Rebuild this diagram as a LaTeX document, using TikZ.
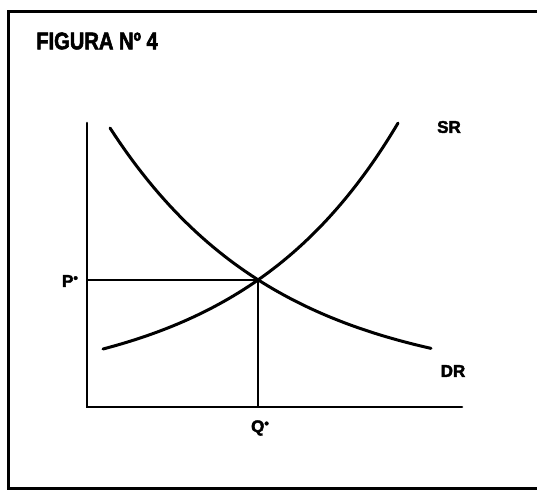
\documentclass[tikz,border=0pt]{standalone}
\usepackage{graphicx}
\usepackage{fontspec}
\setmainfont{Liberation Sans}
\newfontfamily\heavyfont{Liberation Sans}[BoldFeatures={FakeBold=2.5}]
\tikzset{
  curve/.style={line width=3pt, line cap=round},
  axis/.style={line width=2.6pt, line cap=round},
  guide/.style={line width=2.2pt},
  frame/.style={line width=3pt},
  lbl/.style={font=\heavyfont\fontsize{17}{17}\selectfont\bfseries, inner sep=0pt},
}
\newcommand{\stardot}{\raisebox{0.5ex}{\fontsize{13}{13}\selectfont\textbullet}}
\begin{document}
\begin{tikzpicture}[x=1pt,y=-1pt]
\useasboundingbox (0,0) rectangle (537,490);
% frame (top, left, bottom)
\draw[frame] (537,11) -- (8,11) -- (8,488) -- (537,488);
% title
\node[inner sep=0pt, anchor=west] (title) at (36,41) {\scalebox{0.84}[1]{\heavyfont\fontsize{24}{24}\selectfont\bfseries FIGURA Nº 4}};
% axes
\coordinate (ytop) at (87,123);
\coordinate (orig) at (87,407);
\coordinate (xend) at (462,407);
\draw[axis] (ytop) -- (orig) -- (xend);
% equilibrium
\coordinate (eq) at (258,280);
\coordinate (peq) at (87,280);
\coordinate (qeq) at (258,407);
\draw[guide] (peq) -- (eq) -- (qeq);
% supply curve SR
\draw[curve] plot[domain=103:398, samples=60] (\x, {390.7-41.7*exp(0.0063*(\x-103))});
% demand curve DR
\draw[curve] plot[domain=110:431, samples=60] (\x, {386-258*exp(-0.006*(\x-110))});
% labels
\node[lbl] (sr) at (449,127) {SR};
\node[lbl] (dr) at (453,371) {DR};
\node[lbl] (p) at (70,281) {P\stardot};
\node[lbl] (q) at (260,428) {Q\stardot};
\end{tikzpicture}
\end{document}
